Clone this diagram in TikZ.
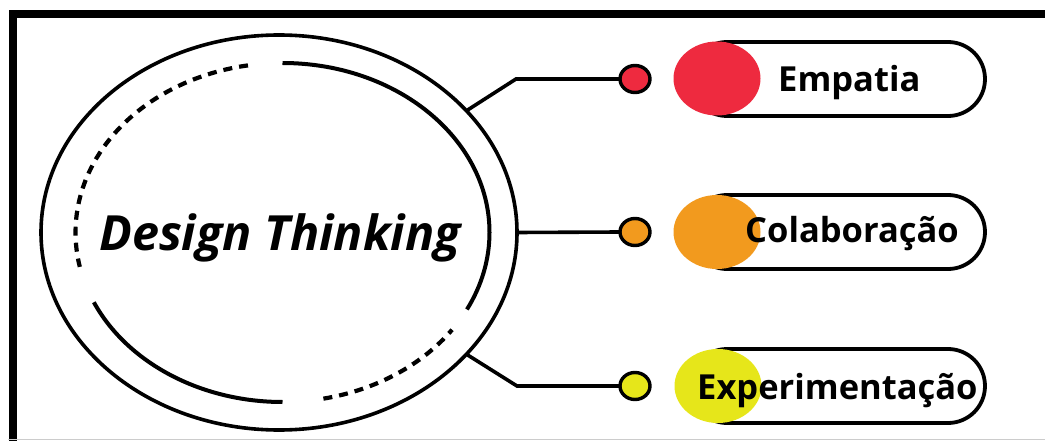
\documentclass[tikz,border=0pt]{standalone}
\usepackage{fontspec}
\setmainfont{Open Sans}
\usetikzlibrary{shapes.geometric}

\definecolor{dtred}{HTML}{EE2A3F}
\definecolor{dtorange}{HTML}{F29A1E}
\definecolor{dtyellow}{HTML}{E6E61A}

\tikzset{
  frameline/.style={line width=8pt, line join=miter},
  outerring/.style={ellipse, draw, line width=3.6pt, minimum width=476pt, minimum height=395pt, inner sep=0pt, outer sep=0pt},
  innerarc/.style={line width=4pt},
  innerdash/.style={line width=4.2pt, dash pattern=on 9pt off 7pt},
  conn/.style={line width=3.6pt, line join=miter},
  knob/.style={ellipse, draw, line width=3.4pt, minimum width=30pt, minimum height=27pt, inner sep=0pt, outer sep=0pt},
  pill/.style={rectangle, draw, line width=3.8pt, fill=white, rounded corners=37pt, minimum width=295pt, minimum height=74pt, inner sep=0pt},
  disc/.style={ellipse, minimum width=87pt, minimum height=74pt, inner sep=0pt},
  pilltext/.style={anchor=base west, inner sep=0pt, font=\fontsize{34.5}{38}\selectfont\bfseries},
  titletext/.style={anchor=base west, inner sep=0pt, font=\fontsize{48.5}{52}\selectfont\bfseries\itshape}
}

\begin{document}
\begin{tikzpicture}[x=1pt, y=1pt]
  \useasboundingbox (0,0) rectangle (1045,-441);

  % frame
  \draw[frameline] (12.5,-441) -- (12.5,-14) -- (1045,-14);
  \draw[black!20, line width=1pt] (8,-439.5) -- (1045,-439.5);

  % central ring
  \node[outerring] (dt) at (279,-232.5) {};
  \node[titletext] (dtlabel) at (99,-250) {Design Thinking};

  % inner broken ring
  \draw[innerarc] (282.5,-232.5) ++(90:207 and 169.5)
    arc[start angle=90, end angle=-27, x radius=207, y radius=169.5];
  \draw[innerarc] (282.5,-232.5) ++(204.3:207 and 169.5)
    arc[start angle=204.3, end angle=270, x radius=207, y radius=169.5];
  \draw[innerdash] (282.5,-232.5) ++(99.6:207 and 169.5)
    arc[start angle=99.6, end angle=191.7, x radius=207, y radius=169.5];
  \draw[innerdash] (282.5,-232.5) ++(281.4:207 and 169.5)
    arc[start angle=281.4, end angle=325, x radius=207, y radius=169.5];

  % branch knobs
  \node[knob, fill=dtred] (k1) at (635,-79) {};
  \node[knob, fill=dtorange] (k2) at (635,-232) {};
  \node[knob, fill=dtyellow] (k3) at (635,-386) {};

  % connectors
  \coordinate (b1) at (516,-79);
  \coordinate (b3) at (517,-386);
  \draw[conn] (dt.33) -- (b1) -- (k1.west);
  \draw[conn] (dt.east) -- (k2.west);
  \draw[conn] (dt.-33) -- (b3) -- (k3.west);

  % pills
  \node[pill] (p1) at (837.5,-79) {};
  \node[pill] (p2) at (837.5,-232) {};
  \node[pill] (p3) at (837.5,-386) {};

  \node[disc, fill=dtred] (c1) at (717,-78.5) {};
  \node[disc, fill=dtorange] (c2) at (717,-232) {};
  \node[disc, fill=dtyellow] (c3) at (718,-386) {};

  \node[pilltext] (t1) at (778,-92) {Empatia};
  \node[pilltext] (t2) at (745,-243) {Colaboração};
  \node[pilltext] (t3) at (697,-399) {Experimentação};
\end{tikzpicture}
\end{document}
